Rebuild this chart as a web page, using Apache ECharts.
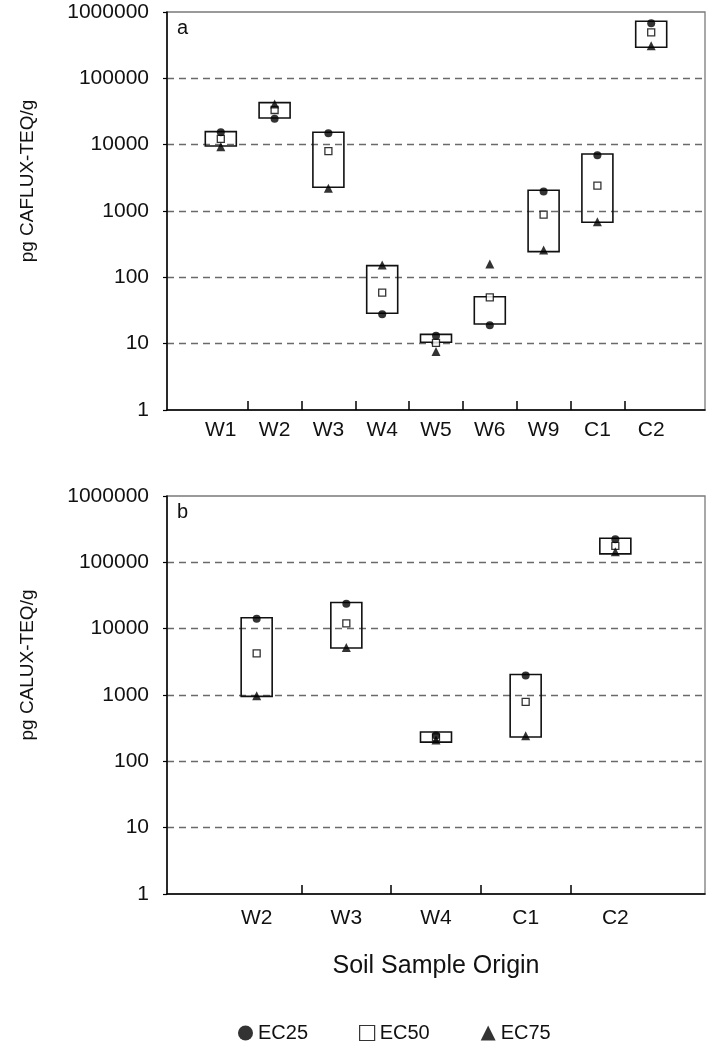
<!DOCTYPE html>
<html>
<head>
<meta charset="utf-8">
<script src="https://cdn.jsdelivr.net/npm/echarts@6/dist/echarts.min.js"></script>
<style>
html,body{margin:0;padding:0;background:#fff;}
#chart{width:709px;height:1050px;}
</style>
</head>
<body>
<div id="chart"></div>
<script>
// ---- Panel a data (pg CAFLUX-TEQ/g) ----
const catsA = ['W1','W2','W3','W4','W5','W6','W9','C1','C2'];
const ec25A = [15400, 24600, 14800, 27.7, 13.2, 18.9, 1960, 6900, 676000];
const ec50A = [12200, 33300, 8000, 58.7, 10.3, 50, 880, 2410, 494000];
const ec75A = [9300, 41000, 2200, 153, 7.6, 159, 258, 690, 310000];
const boxLowA = [9550, 25200, 2280, 28.7, 10.5, 19.8, 244, 676, 294000];
const boxHighA = [15700, 43000, 15400, 150, 13.8, 51, 2050, 7230, 724000];

// ---- Panel b data (pg CALUX-TEQ/g) ----
const catsB = ['W2','W3','W4','C1','C2'];
const ec25B = [14100, 23700, 245, 1970, 223000];
const ec50B = [4230, 12000, 230, 785, 177000];
const ec75B = [975, 5200, 210, 244, 144000];
const boxLowB = [953, 5100, 195, 233, 134000];
const boxHighB = [14600, 24800, 277, 2040, 231000];

const seriesNames = ['EC25', 'EC50', 'EC75'];

const FONT = 'Liberation Sans, Arial, Helvetica, sans-serif';
const chart = echarts.init(document.getElementById('chart'));

function pos(cats) { return cats.map((c, i) => i + 1); }
function pts(cats, vals) { return vals.map((v, i) => [i + 1, v]); }

function xAxisFor(cats, gi, name, labelMargin) {
  const p = pos(cats);
  const mids = p.slice(0, -1).map(v => v + 0.5);
  return {
    type: 'value', gridIndex: gi, min: 0, max: cats.length + 1,
    name: name || '', nameLocation: 'middle', nameGap: 60,
    nameTextStyle: { fontFamily: FONT, fontSize: 25, color: '#111' },
    axisLine: { show: true, lineStyle: { color: '#000', width: 1.5 } },
    axisTick: { show: true, inside: true, length: 9, customValues: mids, lineStyle: { color: '#000', width: 1.5 } },
    axisLabel: { customValues: p, margin: labelMargin, fontFamily: FONT, fontSize: 21, color: '#111',
      formatter: v => cats[Math.round(v) - 1] || '' },
    splitLine: { show: false }
  };
}
function yAxisFor(gi, name) {
  return {
    type: 'log', logBase: 10, gridIndex: gi, min: 1, max: 1000000, splitNumber: 6,
    name: name, nameLocation: 'middle', nameRotate: 90, nameGap: 130,
    nameTextStyle: { fontFamily: FONT, fontSize: 19, color: '#111', padding: [0, 0, 0, 60] },
    axisLine: { show: true, lineStyle: { color: '#000', width: 1.5 } },
    axisTick: { show: true, length: 4, lineStyle: { color: '#000', width: 1.2 } },
    axisLabel: { margin: 18, fontFamily: FONT, fontSize: 21, color: '#111',
      formatter: v => String(Math.round(v)) },
    splitLine: { show: true, showMinLine: false, showMaxLine: false,
      lineStyle: { color: '#6a6a6a', type: [7, 5], width: 1.3 } }
  };
}
function boxSeries(cats, lo, hi, gi) {
  return {
    type: 'custom', xAxisIndex: gi, yAxisIndex: gi, z: 2, silent: true,
    data: cats.map((c, i) => [i + 1, lo[i], hi[i]]),
    encode: { x: 0, y: [1, 2] },
    renderItem: function (params, api) {
      const x = api.value(0);
      const a = api.coord([x, api.value(1)]);
      const b = api.coord([x, api.value(2)]);
      const w = 31;
      return {
        type: 'rect',
        shape: { x: a[0] - w / 2, y: Math.min(a[1], b[1]), width: w, height: Math.abs(a[1] - b[1]) },
        style: { fill: 'none', stroke: '#111', lineWidth: 1.6 }
      };
    }
  };
}
function markerSeries(cats, e25, e50, e75, gi) {
  return [
    { name: seriesNames[0], type: 'scatter', xAxisIndex: gi, yAxisIndex: gi, z: 5, symbol: 'circle', symbolSize: 8,
      itemStyle: { color: '#000' }, data: pts(cats, e25) },
    { name: seriesNames[1], type: 'scatter', xAxisIndex: gi, yAxisIndex: gi, z: 4, symbol: 'rect', symbolSize: 7,
      itemStyle: { color: '#fff', borderColor: '#000', borderWidth: 1.3 }, data: pts(cats, e50) },
    { name: seriesNames[2], type: 'scatter', xAxisIndex: gi, yAxisIndex: gi, z: 5, symbol: 'triangle', symbolSize: 9,
      itemStyle: { color: '#000' }, data: pts(cats, e75) }
  ];
}

const option = {
  backgroundColor: '#fff',
  animation: false,
  textStyle: { fontFamily: FONT },
  title: [
    { text: 'a', left: 177, top: 18, padding: 0, textStyle: { fontFamily: FONT, fontSize: 20, fontWeight: 'normal', color: '#111' } },
    { text: 'b', left: 177, top: 502, padding: 0, textStyle: { fontFamily: FONT, fontSize: 20, fontWeight: 'normal', color: '#111' } }
  ],
  grid: [
    { left: 167, top: 12, width: 538, height: 398, show: true, borderColor: '#7a7a7a', borderWidth: 1.3, backgroundColor: 'transparent' },
    { left: 167, top: 496, width: 538, height: 398, show: true, borderColor: '#7a7a7a', borderWidth: 1.3, backgroundColor: 'transparent' }
  ],
  xAxis: [xAxisFor(catsA, 0, '', 10), xAxisFor(catsB, 1, 'Soil Sample Origin', 14)],
  yAxis: [yAxisFor(0, 'pg CAFLUX-TEQ/g'), yAxisFor(1, 'pg CALUX-TEQ/g')],
  legend: {
    top: 1018, left: 233, itemGap: 51, itemWidth: 15, itemHeight: 15,
    textStyle: { fontFamily: FONT, fontSize: 20, color: '#111' },
    data: [
      { name: 'EC25', icon: 'circle', itemStyle: { color: '#000' } },
      { name: 'EC50', icon: 'rect', itemStyle: { color: '#fff', borderColor: '#000', borderWidth: 1.2 } },
      { name: 'EC75', icon: 'triangle', itemStyle: { color: '#000' } }
    ]
  },
  series: [
    boxSeries(catsA, boxLowA, boxHighA, 0),
    ...markerSeries(catsA, ec25A, ec50A, ec75A, 0),
    boxSeries(catsB, boxLowB, boxHighB, 1),
    ...markerSeries(catsB, ec25B, ec50B, ec75B, 1)
  ]
};
chart.setOption(option);
</script>
</body>
</html>
